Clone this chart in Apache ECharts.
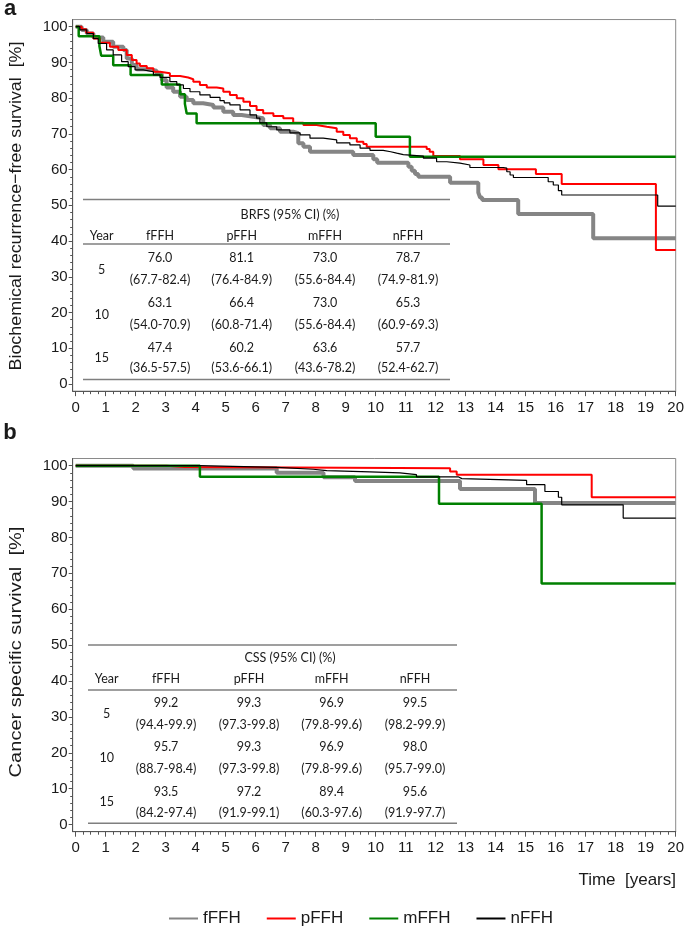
<!DOCTYPE html>
<html><head><meta charset="utf-8">
<script src="https://cdn.jsdelivr.net/npm/echarts@6/dist/echarts.min.js"></script>
<style>html,body{margin:0;padding:0;background:#fff}#c{width:685px;height:936px}</style>
</head><body><div id="c"></div>
<script>
// ---------------- DATA ----------------
const seriesNames = ['fFFH', 'pFFH', 'mFFH', 'nFFH'];
const xTickLabels = [0,1,2,3,4,5,6,7,8,9,10,11,12,13,14,15,16,17,18,19,20];
const yTickLabels = [0,10,20,30,40,50,60,70,80,90,100];

// Panel a: biochemical recurrence-free survival [time (years), survival %]
const brfsF = [[0,100],[0.2,99.1],[0.37,98.1],[0.59,97.0],[0.92,95.8],[1.25,94.4],[1.59,93.5],[1.70,91.1],[1.87,89.3],[2.03,88.1],[2.37,87.7],[2.70,86.8],[2.87,85.1],[3.03,83.0],[3.25,81.8],[3.48,80.4],[3.70,79.5],[3.92,78.6],[4.25,78.1],[4.59,77.4],[4.92,76.2],[5.25,75.3],[5.53,74.8],[5.92,74.4],[6.25,72.5],[6.48,71.6],[6.81,70.6],[7.25,70.2],[7.42,67.4],[7.59,66.4],[7.81,65.0],[9.25,64.1],[9.92,62.9],[10.05,61.9],[11.09,60.8],[11.2,59.7],[11.31,58.8],[11.42,58.0],[12.48,56.3],[13.42,53.6],[13.48,52.2],[13.55,51.5],[14.75,47.6],[17.25,40.8],[20,40.8]];
const brfsP = [[0,100],[0.2,99.3],[0.35,98.3],[0.59,96.7],[0.81,95.5],[1.14,94.4],[1.42,93.5],[1.70,92.1],[1.87,90.7],[2.03,89.7],[2.14,89.0],[2.37,88.4],[2.59,87.4],[2.81,87.0],[3.14,86.2],[3.48,85.8],[3.75,85.3],[3.92,84.6],[4.14,83.7],[4.37,83.0],[4.70,82.7],[4.92,81.8],[5.14,80.9],[5.37,80.0],[5.59,79.0],[5.81,77.8],[6.03,76.7],[6.25,75.8],[6.59,75.0],[6.92,74.4],[7.25,73.1],[7.59,72.5],[8.03,72.0],[8.37,71.6],[8.70,70.6],[8.92,69.7],[9.14,68.8],[9.37,67.8],[9.59,67.2],[9.70,66.4],[11.7,65.8],[11.8,65.0],[11.92,63.8],[12.81,62.9],[13.59,61.3],[14.09,60.1],[15.34,58.8],[16.2,56.0],[19.34,37.5],[20,37.5]];
const brfsM = [[0,100],[0.1,97.3],[0.79,94.6],[0.85,91.9],[1.25,89.2],[1.83,86.5],[2.87,83.8],[3.48,81.1],[3.64,78.4],[3.70,75.7],[4.03,73.0],[10.0,69.2],[11.14,63.6],[20,63.6]];
const brfsN = [[0,100],[0.14,99.1],[0.37,98.1],[0.59,96.7],[0.75,95.3],[1.03,93.5],[1.25,92.1],[1.53,90.2],[1.75,88.8],[1.98,87.9],[2.25,87.4],[2.59,86.5],[2.81,85.8],[3.14,84.6],[3.37,83.7],[3.59,82.7],[3.81,81.8],[4.14,80.9],[4.48,80.2],[4.81,79.3],[4.95,78.7],[5.14,78.1],[5.48,76.7],[5.81,75.3],[6.03,74.4],[6.14,73.1],[6.37,72.0],[6.70,71.1],[7.14,70.3],[7.48,69.7],[7.81,68.8],[8.25,68.3],[8.70,67.5],[9.14,66.9],[9.48,66.0],[9.81,65.4],[10.25,65.0],[10.5,64.6],[10.7,64.2],[10.92,63.8],[11.59,63.2],[12.03,62.2],[12.37,61.8],[12.81,61.3],[13.14,60.6],[14.25,60.4],[14.37,59.4],[14.48,58.5],[14.59,57.8],[15.75,56.6],[15.92,55.7],[16.09,54.1],[16.2,52.9],[19.4,49.8],[20,49.8]];

// Panel b: cancer specific survival
const cssF = [[0,100],[1.92,99.2],[6.70,98.0],[8.26,96.8],[9.31,95.7],[12.81,93.5],[15.31,89.6],[20,89.6]];
const cssP = [[0,100],[3.03,99.6],[3.64,99.3],[12.48,98.4],[12.7,97.5],[17.2,91.2],[20,91.2]];
const cssM = [[0,100],[4.14,96.9],[12.11,89.4],[15.53,67.2],[20,67.2]];
const cssN = [[0,100],[4.14,99.5],[6.70,99.0],[7.92,98.6],[8.37,98.3],[9.81,98.0],[10.81,97.5],[11.36,96.9],[12.75,96.4],[12.87,95.9],[15.03,94.7],[15.64,92.8],[16.09,91.2],[16.2,89.1],[18.25,85.4],[20,85.4]];

// Tables
const tableHeader = ['Year', 'fFFH', 'pFFH', 'mFFH', 'nFFH'];
const tableYears = ['5', '10', '15'];
const brfsTitle = 'BRFS (95% CI) (%)';
const brfsEst = [['76.0','81.1','73.0','78.7'],['63.1','66.4','73.0','65.3'],['47.4','60.2','63.6','57.7']];
const brfsCI = [['(67.7-82.4)','(76.4-84.9)','(55.6-84.4)','(74.9-81.9)'],['(54.0-70.9)','(60.8-71.4)','(55.6-84.4)','(60.9-69.3)'],['(36.5-57.5)','(53.6-66.1)','(43.6-78.2)','(52.4-62.7)']];
const cssTitle = 'CSS (95% CI) (%)';
const cssEst = [['99.2','99.3','96.9','99.5'],['95.7','99.3','96.9','98.0'],['93.5','97.2','89.4','95.6']];
const cssCI = [['(94.4-99.9)','(97.3-99.8)','(79.8-99.6)','(98.2-99.9)'],['(88.7-98.4)','(97.3-99.8)','(79.8-99.6)','(95.7-99.0)'],['(84.2-97.4)','(91.9-99.1)','(60.3-97.6)','(91.9-97.7)']];

// ---------------- STYLE / LAYOUT ----------------
function fontAvailable(name) {
  const ctx = document.createElement('canvas').getContext('2d');
  const t = 'mmmmmmmmmlli0123456789';
  ctx.font = '40px monospace'; const a = ctx.measureText(t).width;
  ctx.font = '40px serif'; const b = ctx.measureText(t).width;
  ctx.font = '40px "' + name + '", monospace'; const c = ctx.measureText(t).width;
  ctx.font = '40px "' + name + '", serif'; const d = ctx.measureText(t).width;
  return a !== c || b !== d;
}
const NARROW = fontAvailable('Liberation Sans Narrow');
const axisFont = NARROW ? 'Liberation Sans Narrow' : 'Liberation Sans';
const tickSize = NARROW ? 18 : 15;
const legendSize = NARROW ? 20 : 17;
const tableFont = '12.5px Lato';
const textColor = '#1a1a1a';
const axisColor = '#555';

const styles = {
  fFFH: { color: '#858585', width: 4, z: 2 },
  pFFH: { color: '#ff0000', width: 2, z: 3 },
  mFFH: { color: '#008000', width: 2.5, z: 4 },
  nFFH: { color: '#000000', width: 1.2, z: 5 }
};

const xMinor = []; for (let i = 0; i <= 80; i++) xMinor.push(i / 4);
const yMinor = []; for (let i = 0; i <= 50; i++) yMinor.push(i * 2);

const grids = [
  { left: 72.7, top: 19.55, width: 603, height: 371.6 },
  { left: 72.7, top: 458.5, width: 603, height: 373.2 }
];

function mainX(gi) {
  return {
    type: 'value', gridIndex: gi, min: -0.1, max: 20, position: 'bottom',
    axisLine: { show: true, onZero: false, lineStyle: { color: axisColor, width: 1 } },
    axisTick: { show: true, customValues: xTickLabels, length: 5, lineStyle: { color: axisColor } },
    axisLabel: { customValues: xTickLabels, margin: 9, fontFamily: axisFont, fontSize: tickSize, color: textColor },
    splitLine: { show: false }
  };
}
function minorX(gi) {
  return {
    type: 'value', gridIndex: gi, min: -0.1, max: 20, position: 'bottom',
    axisLine: { show: false, onZero: false },
    axisTick: { show: true, customValues: xMinor, length: 3, lineStyle: { color: axisColor } },
    axisLabel: { show: false }, splitLine: { show: false }
  };
}
function mainY(gi) {
  return {
    type: 'value', gridIndex: gi, min: -2, max: 102, position: 'left',
    axisLine: { show: true, onZero: false, lineStyle: { color: axisColor, width: 1 } },
    axisTick: { show: true, customValues: yTickLabels, length: 4, lineStyle: { color: axisColor } },
    axisLabel: { customValues: yTickLabels, margin: 5, fontFamily: axisFont, fontSize: tickSize, color: textColor },
    splitLine: { show: false }
  };
}
function minorY(gi) {
  return {
    type: 'value', gridIndex: gi, min: -2, max: 102, position: 'left',
    axisLine: { show: false, onZero: false },
    axisTick: { show: true, customValues: yMinor, length: 2.5, lineStyle: { color: axisColor } },
    axisLabel: { show: false }, splitLine: { show: false }
  };
}

function km(name, data, gi) {
  const s = styles[name];
  return {
    type: 'line', name: name, data: data, step: 'end', symbol: 'none',
    xAxisIndex: gi * 2, yAxisIndex: gi * 2, z: s.z, silent: true,
    lineStyle: { color: s.color, width: s.width }, itemStyle: { color: s.color },
    emphasis: { disabled: true }
  };
}

const tableLayouts = [
  { x1: 83, x2: 450, top: 199.5, titleX: 290, titleY: 215, headY: 235.7, headLine: 244,
    colX: [101.7, 160, 241.7, 325, 408], valY: [258.3, 303.3, 348.3], ciY: [280, 325, 368.3], yearY: [270, 315, 358], bottom: 379.5 },
  { x1: 88, x2: 457, top: 645, titleX: 290, titleY: 657.7, headY: 679.3, headLine: 690,
    colX: [106.7, 166, 249, 331.7, 415], valY: [702.7, 747.3, 791.7], ciY: [725, 769.3, 813.3], yearY: [714, 758, 802], bottom: 823.3 }
];

function txt(x, y, text, font, extra) {
  return Object.assign({ type: 'text', x: x, y: y, silent: true,
    style: { text: text, font: font, fill: textColor, align: 'center', verticalAlign: 'middle' } }, extra || {});
}
function hline(x1, x2, y) {
  return { type: 'line', silent: true, shape: { x1: x1, y1: y, x2: x2, y2: y }, style: { stroke: '#7f7f7f', lineWidth: 1.5 } };
}
function buildTable(L, title, est, ci) {
  const els = [];
  els.push(hline(L.x1, L.x2, L.top));
  els.push(txt(L.titleX, L.titleY, title, tableFont));
  tableHeader.forEach((h, i) => els.push(txt(L.colX[i], L.headY, h, tableFont)));
  els.push(hline(L.x1, L.x2, L.headLine));
  tableYears.forEach((yr, r) => {
    els.push(txt(L.colX[0], L.yearY[r], yr, tableFont));
    for (let c = 0; c < 4; c++) {
      els.push(txt(L.colX[c + 1], L.valY[r], est[r][c], tableFont));
      els.push(txt(L.colX[c + 1], L.ciY[r], ci[r][c], tableFont));
    }
  });
  els.push(hline(L.x1, L.x2, L.bottom));
  return els;
}

const graphics = [].concat(
  [txt(10, 9, 'a', 'bold 22px "Liberation Sans"'),
   txt(10, 433, 'b', 'bold 22px "Liberation Sans"'),
   txt(16, 206, 'Biochemical recurrence\u2212free survival  [%]', '17px "Liberation Sans"', { rotation: Math.PI / 2, scaleX: 1.05 }),
   txt(16, 652, 'Cancer specific survival  [%]', '17px "Liberation Sans"', { rotation: Math.PI / 2, scaleX: 1.18 }),
   { type: 'text', x: 676, y: 880, silent: true, style: { text: 'Time  [years]', font: (tickSize + 2) + 'px "' + axisFont + '"', fill: textColor, align: 'right', verticalAlign: 'middle' } }
  ],
  buildTable(tableLayouts[0], brfsTitle, brfsEst, brfsCI),
  buildTable(tableLayouts[1], cssTitle, cssEst, cssCI)
);

const chart = echarts.init(document.getElementById('c'), null, { renderer: 'canvas' });
chart.setOption({
  animation: false,
  backgroundColor: '#fff',
  grid: grids.map(g => Object.assign({ show: true, borderColor: '#8a8a8a', borderWidth: 1, backgroundColor: 'transparent', containLabel: false, outerBoundsMode: 'none' }, g)),
  xAxis: [mainX(0), minorX(0), mainX(1), minorX(1)],
  yAxis: [mainY(0), minorY(0), mainY(1), minorY(1)],
  legend: {
    data: seriesNames, left: 163, top: 905, itemWidth: 29, itemHeight: 12, itemGap: 25,
    selectedMode: false,
    itemStyle: { opacity: 0 },
    textStyle: { fontFamily: axisFont, fontSize: legendSize, color: textColor, width: 46 }
  },
  series: [
    km('fFFH', brfsF, 0), km('pFFH', brfsP, 0), km('mFFH', brfsM, 0), km('nFFH', brfsN, 0),
    km('fFFH', cssF, 1), km('pFFH', cssP, 1), km('mFFH', cssM, 1), km('nFFH', cssN, 1)
  ],
  graphic: graphics
});
</script>
</body></html>
